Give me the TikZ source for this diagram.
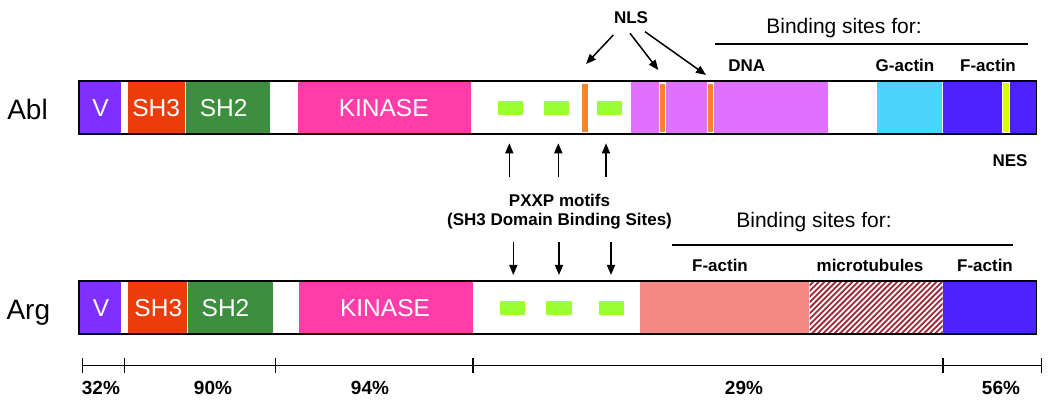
\documentclass[tikz,border=0pt]{standalone}
\usepackage{fontspec}
\setmainfont{Liberation Sans}
\usetikzlibrary{arrows.meta}
\definecolor{cV}{RGB}{127,47,255}
\definecolor{cSHthree}{RGB}{235,60,10}
\definecolor{cSHtwo}{RGB}{62,142,64}
\definecolor{cKin}{RGB}{255,60,168}
\definecolor{cOrch}{RGB}{226,112,255}
\definecolor{cCyan}{RGB}{76,212,255}
\definecolor{cBlue}{RGB}{76,34,255}
\definecolor{cOr}{RGB}{245,132,42}
\definecolor{cYel}{RGB}{218,255,0}
\definecolor{cGrn}{RGB}{155,255,50}
\definecolor{cSal}{RGB}{245,137,132}
\definecolor{cHat}{RGB}{160,40,52}
\tikzset{
  dom/.style={text=white, font=\fontsize{24.5}{28}\selectfont, anchor=base, inner sep=0pt},
  lab/.style={font=\fontsize{17}{20}\selectfont\bfseries, anchor=base, inner sep=0pt},
  big/.style={font=\fontsize{21}{24}\selectfont, anchor=base, inner sep=0pt},
  prot/.style={font=\fontsize{28}{32}\selectfont, anchor=base, inner sep=0pt},
  pct/.style={font=\fontsize{19}{22}\selectfont\bfseries, anchor=base, inner sep=0pt},
  arr/.style={line width=1.5pt, -{Triangle[length=10pt,width=8pt]}},
  border/.style={draw=black, line width=1.8pt},
  mark box/.style={draw=white, line width=1.2pt},
  rule/.style={line width=1.5pt},
}
\begin{document}
\begin{tikzpicture}[x=1pt,y=-1pt]
\useasboundingbox (0,0) rectangle (1050,411);
% ---------- Abl bar ----------
\fill[white] (79,80.7) rectangle (1036.5,133.7);
\fill[cV] (79,80.7) rectangle (121,133.7);
\fill[cSHthree] (128.3,80.7) rectangle (184.5,133.7);
\fill[cSHtwo] (185.5,80.7) rectangle (269.5,133.7);
\fill[cKin] (297.7,80.7) rectangle (471,133.7);
\fill[cOrch] (631,80.7) rectangle (827.7,133.7);
\fill[cCyan] (877.3,80.7) rectangle (942.3,133.7);
\fill[cBlue] (943.3,80.7) rectangle (1036.5,133.7);
\fill[cGrn] (497.7,101) rectangle (523.3,115);
\fill[cGrn] (544,101) rectangle (569.3,115);
\fill[cGrn] (596.7,101) rectangle (622,115);
\draw[mark box, fill=cOr] (581.7,83.3) rectangle (588.7,132.7);
\draw[mark box, fill=cOr] (659.5,83) rectangle (665.7,132.7);
\draw[mark box, fill=cOr] (707.3,83) rectangle (713.5,132.7);
\draw[mark box, fill=cYel] (1002.8,82) rectangle (1009.6,132.7);
\draw[border] (79,80.7) rectangle (1036.5,133.7);
% ---------- Arg bar ----------
\fill[white] (79,280.7) rectangle (1036.5,333.7);
\fill[cV] (79,280.7) rectangle (120.7,333.7);
\fill[cSHthree] (128.3,280.7) rectangle (186.7,333.7);
\fill[cSHtwo] (188.3,280.7) rectangle (272.7,333.7);
\fill[cKin] (299.3,280.7) rectangle (473.3,333.7);
\fill[cGrn] (500,301) rectangle (525.3,315);
\fill[cGrn] (546,301) rectangle (571.7,315);
\fill[cGrn] (599,301) rectangle (624.3,315);
\fill[cSal] (640,280.7) rectangle (808.5,333.7);
\begin{scope}
  \clip (809.5,280.7) rectangle (942.5,333.7);
  \foreach \i in {-11,...,25}
    \draw[cHat, line width=1.8pt] ({809.5+\i*5.6},336) -- ++(60,-60);
\end{scope}
\fill[cBlue] (943.3,280.7) rectangle (1036.5,333.7);
\draw[border] (79,280.7) rectangle (1036.5,333.7);
% ---------- protein names ----------
\node[prot] (abl) at (27.5,119.3) {Abl};
\node[prot] (arg) at (28.3,319.5) {Arg};
% ---------- domain labels ----------
\node[dom] (ablV) at (100.5,116.7) {V};
\node[dom] (ablSHthree) at (156.2,116.7) {SH3};
\node[dom] (ablSHtwo) at (223.7,116.7) {SH2};
\node[dom] (ablKin) at (383.7,116.7) {KINASE};
\node[dom] (argV) at (101,316.7) {V};
\node[dom] (argSHthree) at (158.3,316.7) {SH3};
\node[dom] (argSHtwo) at (225.5,316.7) {SH2};
\node[dom] (argKin) at (385,316.7) {KINASE};
% ---------- top annotations ----------
\node[lab] (nls) at (631,24) {NLS};
\node[big] (bsA) at (844,33.3) {Binding sites for:};
\coordinate (ruleAl) at (715,44);
\coordinate (ruleAr) at (1028.3,44);
\draw[rule] (ruleAl) -- (ruleAr);
\node[lab] (dna) at (746.7,71.7) {DNA};
\node[lab] (gact) at (905,71.7) {G-actin};
\node[lab] (factA) at (988,71.7) {F-actin};
\coordinate (s1) at (613.3,35);
\coordinate (t1) at (586,64);
\coordinate (s2) at (630,33.3);
\coordinate (t2) at (658.3,70);
\coordinate (s3) at (645,31.7);
\coordinate (t3) at (706,75);
\draw[arr] (s1) -- (t1);
\draw[arr] (s2) -- (t2);
\draw[arr] (s3) -- (t3);
\node[lab] (nes) at (1010,167) {NES};
% ---------- PXXP ----------
\node[lab] (pxa) at (559.5,206.7) {PXXP motifs};
\node[lab] (pxb) at (559.5,226) {(SH3 Domain Binding Sites)};
\foreach \x [count=\k] in {509.3,558.3,606}{
  \coordinate (ua\k) at (\x,176.7);
  \coordinate (ub\k) at (\x,143.3);
  \draw[arr] (ua\k) -- (ub\k);
}
\foreach \x [count=\k] in {513.3,559,611}{
  \coordinate (da\k) at (\x,242);
  \coordinate (db\k) at (\x,275);
  \draw[arr] (da\k) -- (db\k);
}
% ---------- lower annotations ----------
\node[big] (bsB) at (814,227.5) {Binding sites for:};
\coordinate (ruleBl) at (671.7,245);
\coordinate (ruleBr) at (1013,245);
\draw[rule] (ruleBl) -- (ruleBr);
\node[lab] (factB) at (720,271.5) {F-actin};
\node[lab] (mt) at (870,271.5) {microtubules};
\node[lab] (factC) at (985,271.5) {F-actin};
% ---------- scale ----------
\coordinate (sc0) at (82.7,365.7);
\coordinate (sc1) at (124.3,365.7);
\coordinate (sc2) at (275.3,365.7);
\coordinate (sc3) at (473,365.7);
\coordinate (sc4) at (943,365.7);
\coordinate (sc5) at (1041.5,365.7);
\draw[rule] (sc0) -- (sc5);
\foreach \k in {0,...,5}
  \draw[rule] ([yshift=7.5pt]sc\k) -- ([yshift=-7.5pt]sc\k);
\node[pct, anchor=base west] (p32) at (81.7,395) {32\%};
\node[pct] (p90) at (213,395) {90\%};
\node[pct] (p94) at (370,395) {94\%};
\node[pct] (p29) at (744,395) {29\%};
\node[pct] (p56) at (1001,395) {56\%};
\end{tikzpicture}
\end{document}
